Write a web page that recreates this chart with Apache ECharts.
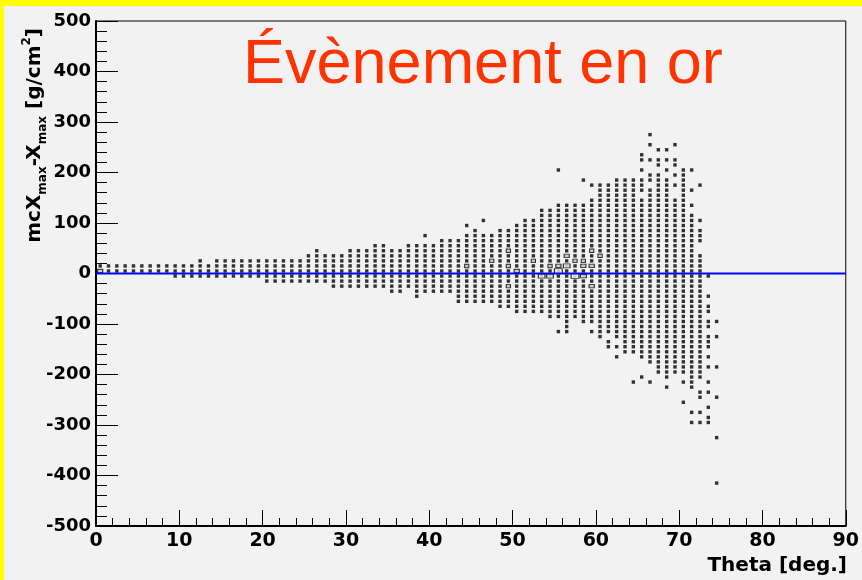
<!DOCTYPE html>
<html><head><meta charset="utf-8">
<script src="https://cdn.jsdelivr.net/npm/echarts/dist/echarts.min.js"></script>
<style>html,body{margin:0;padding:0;background:#f2f2f2}#c{width:862px;height:580px}</style>
</head><body><div id="c"></div><script>
// Theta bin centres (deg)
const thetaCenters = [0.5,1.5,2.5,3.5,4.5,5.5,6.5,7.5,8.5,9.5,10.5,11.5,12.5,13.5,14.5,15.5,16.5,17.5,18.5,19.5,
20.5,21.5,22.5,23.5,24.5,25.5,26.5,27.5,28.5,29.5,30.5,31.5,32.5,33.5,34.5,35.5,36.5,37.5,38.5,39.5,
40.5,41.5,42.5,43.5,44.5,45.5,46.5,47.5,48.5,49.5,50.5,51.5,52.5,53.5,54.5,55.5,56.5,57.5,58.5,59.5,
60.5,61.5,62.5,63.5,64.5,65.5,66.5,67.5,68.5,69.5,70.5,71.5,72.5,73.5,74.5];
// Filled mcXmax-Xmax bins (bin centres, g/cm2) for each theta bin
const filledBins = [
[15,5],[15,5],[15,5],[15,5],[15,5],[15,5],[15,5],[15,5],[15,5],
[15,5,-5],[15,5,-5],[15,5,-5],
[25,15,5,-5],
[15,5,-5],
[25,15,5,-5],[25,15,5,-5],[25,15,5,-5],[25,15,5,-5],[25,15,5,-5],[25,15,5,-5],
[25,15,5,-5,-15],[25,15,5,-5,-15],[25,15,5,-5,-15],[25,15,5,-5,-15],[25,15,5,-5,-15],
[35,25,15,5,-5,-15],
[45,35,25,15,5,-5,-15],
[35,25,15,5,-5,-15],
[35,25,15,5,-5,-15,-25],
[35,25,15,5,-5,-15,-25],
[45,35,25,15,5,-5,-15,-25],
[45,35,25,15,5,-5,-15,-25],
[45,35,25,15,5,-5,-15,-25],
[55,45,35,25,15,5,-5,-15,-25],
[55,45,35,25,15,5,-5,-15,-25],
[45,35,25,15,5,-5,-15,-25,-35],
[45,35,25,15,5,-5,-15,-25,-35],
[55,45,35,25,15,5,-5,-15,-25],
[55,45,35,25,15,5,-5,-15,-25,-35,-45],
[75,55,45,35,25,15,5,-5,-15,-25,-35],
[55,45,35,25,15,5,-5,-15,-25,-35],
[65,55,45,35,25,15,5,-5,-15,-25,-35],
[65,55,45,35,25,15,5,-5,-15,-25,-35],
[65,55,45,35,25,15,5,-5,-15,-25,-35,-45,-55],
[95,75,65,55,45,35,25,15,5,-5,-15,-25,-35,-45,-55],
[85,75,65,55,45,35,25,15,5,-5,-15,-25,-35,-45,-55],
[105,75,65,55,45,35,25,15,5,-5,-15,-25,-35,-45,-55],
[75,65,55,45,35,25,15,5,-5,-15,-25,-35,-45,-55],
[85,75,65,55,45,35,25,15,5,-5,-15,-25,-35,-45,-55,-65],
[85,75,65,55,45,35,25,15,5,-5,-15,-25,-35,-45,-55,-65],
[95,85,75,65,55,45,35,25,15,5,-5,-15,-25,-35,-45,-55,-65,-75],
[105,95,85,75,65,55,45,35,25,15,5,-5,-15,-25,-35,-45,-55,-65,-75],
[105,95,85,75,65,55,45,35,25,15,5,-5,-15,-25,-35,-45,-55,-65,-75],
[125,115,105,95,85,75,65,55,45,35,25,15,5,-5,-15,-25,-35,-45,-55,-65,-75],
[125,115,105,95,85,75,65,55,45,35,25,15,5,-5,-15,-25,-35,-45,-55,-65,-75,-85],
[205,135,125,115,105,95,85,75,65,55,45,35,25,15,5,-5,-15,-25,-35,-45,-55,-65,-75,-85,-115],
[135,125,115,105,95,85,75,65,55,45,35,25,15,5,-5,-15,-25,-35,-45,-55,-65,-75,-85,-95,-105,-115],
[135,125,115,105,95,85,75,65,55,45,35,25,15,5,-5,-15,-25,-35,-45,-55,-65,-75,-85],
[185,135,125,115,105,95,85,75,65,55,45,35,25,15,5,-5,-15,-25,-35,-45,-55,-65,-75,-85,-95],
[175,145,135,125,115,105,95,85,75,65,55,45,35,25,15,5,-5,-15,-25,-35,-45,-55,-65,-75,-85,-95,-115],
[175,165,155,145,135,125,115,105,95,85,75,65,55,45,35,25,15,5,-5,-15,-25,-35,-45,-55,-65,-75,-85,-95,-105,-115,-125],
[175,165,155,145,135,125,115,105,95,85,75,65,55,45,35,25,15,5,-5,-15,-25,-35,-45,-55,-65,-75,-85,-95,-105,-115,-135,-145],
[185,175,165,155,145,135,125,115,105,95,85,75,65,55,45,35,25,15,5,-5,-15,-25,-35,-45,-55,-65,-75,-85,-95,-105,-115,-125,-145,-165],
[185,175,165,155,145,135,125,115,105,95,85,75,65,55,45,35,25,15,5,-5,-15,-25,-35,-45,-55,-65,-75,-85,-95,-105,-115,-125,-135,-145,-155],
[185,175,165,155,145,135,125,115,105,95,85,75,65,55,45,35,25,15,5,-5,-15,-25,-35,-45,-55,-65,-75,-85,-95,-105,-115,-125,-135,-145,-155,-215],
[235,225,205,185,175,165,145,135,125,115,105,95,85,75,65,55,45,35,25,15,5,-5,-15,-25,-35,-45,-55,-65,-75,-85,-95,-105,-115,-125,-135,-145,-155,-165,-205],
[275,255,225,195,185,165,155,145,135,125,115,105,95,85,75,65,55,45,35,25,15,5,-5,-15,-25,-35,-45,-55,-65,-75,-85,-95,-105,-115,-125,-135,-145,-155,-165,-175,-215],
[245,225,215,195,185,175,165,155,145,135,125,115,105,95,85,75,65,55,45,35,25,15,5,-5,-15,-25,-35,-45,-55,-65,-75,-85,-95,-105,-115,-125,-135,-145,-155,-165,-175,-185,-195],
[245,225,205,185,175,165,155,145,135,125,115,105,95,85,75,65,55,45,35,25,15,5,-5,-15,-25,-35,-45,-55,-65,-75,-85,-95,-105,-115,-125,-135,-145,-155,-165,-175,-185,-195,-205,-225],
[255,225,215,195,175,145,135,125,115,105,95,85,75,65,55,45,35,25,15,5,-5,-15,-25,-35,-45,-55,-65,-75,-85,-95,-105,-115,-125,-135,-145,-155,-165,-175,-185,-195],
[205,195,185,175,165,155,145,135,125,115,105,95,85,75,65,55,45,35,25,15,5,-5,-15,-25,-35,-45,-55,-65,-75,-85,-95,-105,-115,-125,-135,-145,-155,-165,-175,-185,-195,-215,-255],
[205,165,135,115,105,95,85,75,65,55,45,35,25,15,5,-5,-15,-25,-35,-45,-55,-65,-75,-85,-95,-105,-115,-125,-135,-145,-155,-165,-175,-185,-195,-205,-215,-225,-275,-295],
[175,105,85,75,65,35,25,15,5,-5,-15,-25,-35,-45,-55,-65,-75,-85,-95,-105,-115,-125,-135,-145,-155,-165,-175,-185,-195,-205,-235,-245,-275,-295],
[-5,-45,-65,-75,-95,-105,-125,-135,-145,-165,-185,-215,-235,-265,-285,-295],
[-95,-125,-185,-245,-325,-415]
];
// Higher-content bins drawn as larger open boxes: theta, bin centre, relative content
const boxTheta = [0.5,44.5,47.5,49.5,49.5,49.5,50.5,52.5,53.5,54.5,54.5,55.5,55.5,56.5,56.5,57.5,57.5,58.5,58.5,58.5,59.5,59.5,59.5,60.5];
const boxY     = [5,  15,  25,  45,  15, -25,   5,  25,  -5,  -5,  15,   5,  15,  35,  15,  -5,  25,  -5,  15,  25,  45,  15, -25,  35];
const boxCount = [3,  2,   2,   2,   2,   2,    3,  2,   5,   5,   2,   7,  3,   3,   5,   7,   2,   4,   3,   2,   2,   3,   3,   2];
// Reference line
const refLineX = [0, 90];
const refLineY = [0, 0];

const ptData = [];
thetaCenters.forEach((t, i) => filledBins[i].forEach(y => ptData.push([t, y])));
const boxData = boxTheta.map((t, i) => [t, boxY[i], boxCount[i]]);
const lineData = refLineX.map((x, i) => [x, refLineY[i]]);

const FONT = '"DejaVu Sans", sans-serif';
const chart = echarts.init(document.getElementById('c'));
const gridW = 751, gridH = 505;
const binW = gridW / 90, binH = gridH / 1000 * 10;
chart.setOption({
  backgroundColor: '#f2f2f2',
  animation: false,
  grid: {left: 96, right: 15, top: 21, bottom: 54, show: true, borderColor: '#000', borderWidth: 1},
  xAxis: {
    type: 'value', min: 0, max: 90, interval: 10,
    axisLine: {show: true, onZero: false, lineStyle: {color: '#000', width: 2}},
    axisTick: {show: true, inside: true, length: 16, lineStyle: {color: '#000', width: 1}},
    minorTick: {show: true, splitNumber: 5, length: 8, lineStyle: {color: '#000', width: 1}},
    splitLine: {show: false},
    axisLabel: {color: '#000', fontFamily: FONT, fontWeight: 'bold', fontSize: 19, margin: 6, showMinLabel: true, showMaxLabel: true}
  },
  yAxis: {
    type: 'value', min: -500, max: 500, interval: 100,
    axisLine: {show: true, onZero: false, lineStyle: {color: '#000', width: 2}},
    axisTick: {show: true, inside: true, length: 22, lineStyle: {color: '#000', width: 1}},
    minorTick: {show: true, splitNumber: 5, length: 11, lineStyle: {color: '#000', width: 1}},
    splitLine: {show: false},
    axisLabel: {color: '#000', fontFamily: FONT, fontWeight: 'bold', fontSize: 18, margin: 5, showMinLabel: true, showMaxLabel: true}
  },
  series: [
    {type: 'scatter', name: 'bins', data: ptData, symbol: 'rect', symbolSize: 3.4, silent: true,
     itemStyle: {color: '#000'}, z: 2},
    {type: 'scatter', name: 'boxes', data: boxData, symbol: 'rect', silent: true,
     symbolSize: v => { const f = Math.sqrt(v[2] / 8); return [Math.max(binW * f, 4), Math.max(binH * f, 3.5)]; },
     itemStyle: {color: '#f2f2f2', borderColor: '#000', borderWidth: 1}, z: 3},
    {type: 'line', name: 'ref', data: lineData, symbol: 'none', silent: true,
     lineStyle: {color: '#0000ff', width: 2}, z: 4}
  ],
  graphic: [
    {type: 'rect', shape: {x: 0, y: 0, width: 862, height: 6}, style: {fill: '#ffff00'}, silent: true},
    {type: 'rect', shape: {x: 0, y: 0, width: 4, height: 580}, style: {fill: '#ffff00'}, silent: true},
    {type: 'text', x: 243, y: 66, silent: true,
     style: {text: 'Évènement en or', font: 'normal 63px "Liberation Sans", Arial, sans-serif', fill: '#ff3300', align: 'left', verticalAlign: 'middle'}},
    {type: 'text', x: 847, y: 566, silent: true,
     style: {text: 'Theta [deg.]', font: 'bold 20px "DejaVu Sans", sans-serif', fill: '#000', align: 'right', verticalAlign: 'middle'}},
    {type: 'text', x: 35, y: 28, rotation: Math.PI / 2, silent: true,
     style: {
       text: '{a|mcX}{s|max}{a|-X}{s|max}{a| [g/cm}{p|2}{a|]}',
       align: 'right', verticalAlign: 'middle', fill: '#000',
       rich: {
         a: {fontSize: 20, fontWeight: 'bold', fontFamily: FONT, lineHeight: 28, verticalAlign: 'middle', fill: '#000'},
         s: {fontSize: 12, fontWeight: 'bold', fontFamily: FONT, lineHeight: 12, verticalAlign: 'bottom', fill: '#000'},
         p: {fontSize: 12, fontWeight: 'bold', fontFamily: FONT, lineHeight: 12, verticalAlign: 'top', fill: '#000'}
       }
     }}
  ]
});
</script></body></html>
